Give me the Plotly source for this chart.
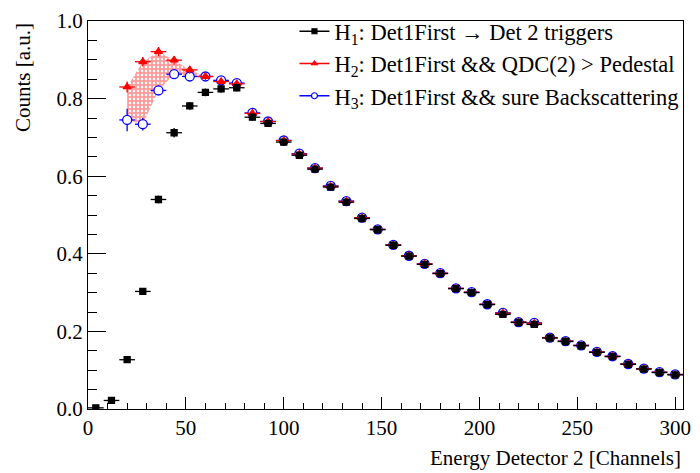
import plotly.graph_objects as go

# bin centres (channels), 8-channel bins
bins = [4, 12, 20, 28, 36, 44, 52, 60, 68, 76, 84, 92, 100, 108, 116, 124, 132, 140, 148, 156,
        164, 172, 180, 188, 196, 204, 212, 220, 228, 236, 244, 252, 260, 268, 276, 284, 292, 300]

h1 = [0.003, 0.022, 0.127, 0.303, 0.540, 0.712, 0.781, 0.816, 0.825, 0.828,
      0.752, 0.736, 0.688, 0.654, 0.618, 0.572, 0.533, 0.491, 0.462, 0.422,
      0.394, 0.373, 0.349, 0.310, 0.300, 0.269, 0.244, 0.223, 0.218, 0.183,
      0.174, 0.163, 0.146, 0.135, 0.115, 0.103, 0.094, 0.088]
h1_err = [0.002, 0.004, 0.006, 0.008, 0.010, 0.012, 0.010, 0.010, 0.010, 0.010,
          0.009, 0.009, 0.008, 0.008, 0.008, 0.007, 0.007, 0.007, 0.006, 0.006,
          0.006, 0.006, 0.005, 0.005, 0.005, 0.005, 0.005, 0.004, 0.004, 0.004,
          0.004, 0.004, 0.004, 0.003, 0.003, 0.003, 0.003, 0.003]

h2 = [None, None, 0.830, 0.895, 0.921, 0.899, 0.874, 0.857, 0.844, 0.838,
      0.762, 0.741, 0.692, 0.657, 0.621, 0.574, 0.535, 0.493, 0.463, 0.423,
      0.395, 0.374, 0.350, 0.311, 0.301, 0.270, 0.247, 0.224, 0.221, 0.184,
      0.175, 0.164, 0.147, 0.136, 0.116, 0.104, 0.095, 0.089]
h2_err = [0, 0, 0.014, 0.012, 0.012, 0.011, 0.010, 0.010, 0.010, 0.010,
          0.009, 0.009, 0.008, 0.008, 0.008, 0.007, 0.007, 0.007, 0.006, 0.006,
          0.006, 0.006, 0.005, 0.005, 0.005, 0.005, 0.005, 0.004, 0.004, 0.004,
          0.004, 0.004, 0.004, 0.003, 0.003, 0.003, 0.003, 0.003]

h3 = [None, None, 0.745, 0.734, 0.821, 0.863, 0.857, 0.857, 0.847, 0.840,
      0.763, 0.741, 0.692, 0.658, 0.621, 0.575, 0.536, 0.493, 0.463, 0.423,
      0.395, 0.374, 0.350, 0.311, 0.301, 0.270, 0.248, 0.224, 0.222, 0.184,
      0.175, 0.164, 0.147, 0.136, 0.116, 0.104, 0.095, 0.089]
h3_err = [0, 0, 0.029, 0.016, 0.013, 0.011, 0.010, 0.010, 0.010, 0.010,
          0.009, 0.009, 0.008, 0.008, 0.008, 0.007, 0.007, 0.007, 0.006, 0.006,
          0.006, 0.006, 0.005, 0.005, 0.005, 0.005, 0.005, 0.004, 0.004, 0.004,
          0.004, 0.004, 0.004, 0.003, 0.003, 0.003, 0.003, 0.003]

half_width = [4] * len(bins)

labels = ["H<sub>1</sub>: Det1First \u2192 Det 2 triggers",
          "H<sub>2</sub>: Det1First && QDC(2) > Pedestal",
          "H<sub>3</sub>: Det1First && sure Backscattering"]

FONT = "Liberation Serif, Times New Roman, serif"
FS = 21

# shaded band between H2 and H3 (bins 20..60)
i0, i1 = 2, 8
band_x = bins[i0:i1] + bins[i0:i1][::-1]
band_y = h2[i0:i1] + h3[i0:i1][::-1]

fig = go.Figure()
fig.add_trace(go.Scatter(
    x=band_x, y=band_y, mode="lines", fill="toself", line=dict(width=0),
    fillcolor="rgba(255,110,110,0.6)",
    fillpattern=dict(shape=".", fgcolor="white", bgcolor="rgba(255,100,100,0.65)",
                     size=4, solidity=0.3, fillmode="replace"),
    showlegend=False, hoverinfo="skip"))

def add_hist(y, yerr, color, symbol, size, fillc):
    fig.add_trace(go.Scatter(
        x=bins, y=y, mode="markers",
        marker=dict(symbol=symbol, size=size, color=fillc,
                    line=dict(color=color, width=1.3)),
        error_x=dict(type="data", array=half_width, color=color, thickness=1.3, width=0),
        error_y=dict(type="data", array=yerr, color=color, thickness=1.3, width=0),
        showlegend=False))

# draw order: H3, H2, then H1 on top
add_hist(h3, h3_err, "blue", "circle", 9, "white")
add_hist(h2, h2_err, "red", "triangle-up", 7, "red")
add_hist(h1, h1_err, "black", "square", 6, "black")

# legend entries (line + marker like the original)
for name, color, symbol, size, fillc in [(labels[0], "black", "square", 5, "black"),
                                         (labels[1], "red", "triangle-up", 5, "red"),
                                         (labels[2], "blue", "circle", 6, "white")]:
    fig.add_trace(go.Scatter(x=[None], y=[None], mode="lines+markers", name=name,
                             line=dict(color=color, width=1.3),
                             marker=dict(symbol=symbol, size=size, color=fillc,
                                         line=dict(color=color, width=1.2))))

fig.update_layout(
    width=700, height=473,
    margin=dict(l=88, r=9, t=15, b=64),
    paper_bgcolor="white", plot_bgcolor="white",
    font=dict(family=FONT, size=FS, color="black"),
    showlegend=True,
    legend=dict(x=0.347, y=1.028, xanchor="left", yanchor="top",
                bgcolor="rgba(255,255,255,0)", borderwidth=0,
                font=dict(family=FONT, size=22.5), itemwidth=30,
                tracegroupgap=0),
    xaxis=dict(range=[0, 304], showline=True, linecolor="black", linewidth=1, mirror=True,
               ticks="inside", ticklen=12, tickcolor="black", dtick=50, tick0=0,
               minor=dict(ticks="inside", ticklen=6, dtick=10, tickcolor="black"),
               showgrid=False, zeroline=False,
               tickfont=dict(family=FONT, size=FS)),
    yaxis=dict(range=[0, 1.0], showline=True, linecolor="black", linewidth=1, mirror=True,
               ticks="inside", ticklen=18, tickcolor="black", dtick=0.2, tick0=0,
               tickformat=".1f",
               minor=dict(ticks="inside", ticklen=9, dtick=0.05, tickcolor="black"),
               showgrid=False, zeroline=False,
               tickfont=dict(family=FONT, size=FS)),
    annotations=[
        dict(text="Counts [a.u.]", xref="paper", yref="paper", x=-0.11, y=1.0,
             xanchor="center", yanchor="top", textangle=-90, showarrow=False,
             font=dict(family=FONT, size=FS)),
        dict(text="Energy Detector 2 [Channels]", xref="paper", yref="paper", x=1.0, y=-0.125,
             xanchor="right", yanchor="middle", showarrow=False,
             font=dict(family=FONT, size=FS)),
    ],
)

fig.write_html("out.html")
